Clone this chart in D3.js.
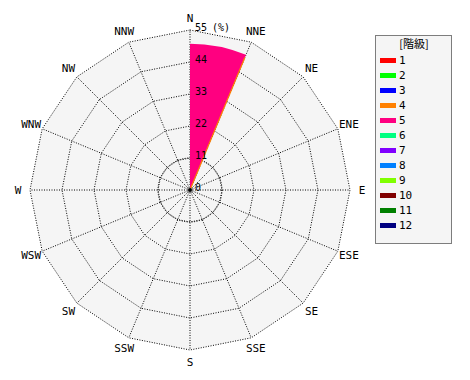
<!DOCTYPE html>
<html>
<head>
<meta charset="utf-8">
<script src="https://cdn.jsdelivr.net/npm/d3@7"></script>
<style>
  body { margin: 0; background: #fff; }
  text { font-family: "DejaVu Sans Mono", monospace; font-size: 10px; fill: #000; }
</style>
</head>
<body>
<div id="chart"></div>
<script>
const directions = ["N","NNE","NE","ENE","E","ESE","SE","SSE","S","SSW","SW","WSW","W","WNW","NW","NNW"];
const classes = ["1","2","3","4","5","6","7","8","9","10","11","12"];
const classColors = ["#ff0000","#00ff00","#0000ff","#ff8000","#ff0080","#00ff80","#8000ff","#0080ff","#80ff00","#800000","#008000","#000080"];
// frequency (%) per class, per direction (sector drawn clockwise from its direction)
const freq = {
  "4": [0.1,0,0,0,0,0,0,0,0,0,0,0,0,0,0,0],
  "5": [50.2,0,0,0,0,0,0,0,0,0,0,0,0,0,0,0]
};
const ringTicks = [11, 22, 33, 44, 55];

let width = 470, height = 380;
const cx = 190, cy = 190, R = 160;

const svg = d3.select("#chart").append("svg")
  .attr("width", width).attr("height", height);

const r = d3.scaleLinear().domain([0, 55]).range([0, R]);
const ang = d3.scaleLinear().domain([0, directions.length]).range([0, 2 * Math.PI]);

const g = svg.append("g").attr("transform", `translate(${cx},${cy})`);
const pt = (a, rad) => [rad * Math.sin(a), -rad * Math.cos(a)];

// background polygon
g.append("polygon")
  .attr("points", directions.map((d, i) => pt(ang(i), r(55))).join(" "))
  .attr("fill", "#f5f5f5");

// grid rings
const dotted = sel => sel.attr("fill", "none").attr("stroke", "#000")
  .attr("stroke-dasharray", "1,1.5").attr("stroke-width", 1);
ringTicks.forEach(t => {
  g.append("polygon")
    .attr("points", directions.map((d, i) => pt(ang(i), r(t))).join(" "))
    .call(dotted);
});
g.append("circle").attr("r", r(11)).call(dotted);

// spokes
directions.forEach((d, i) => {
  const [x2, y2] = pt(ang(i), r(55));
  g.append("line").attr("x1", 0).attr("y1", 0).attr("x2", x2).attr("y2", y2).call(dotted);
});

// stacked sectors
const arc = d3.arc();
directions.forEach((d, i) => {
  let acc = 0;
  const parts = classes.map(c => {
    const v = freq[c] ? freq[c][i] : 0;
    const p = { c, v, inner: acc, outer: acc + v };
    acc += v;
    return p;
  }).filter(p => p.v > 0);
  parts.forEach(p => {
    const ci = classes.indexOf(p.c);
    g.append("path")
      .attr("d", arc({ innerRadius: r(p.inner), outerRadius: r(p.outer), startAngle: ang(i), endAngle: ang(i + 1) }))
      .attr("fill", classColors[ci]);
  });
  // thin outline of lower class along the sector edge
  if (parts.length > 1) {
    const top = parts[parts.length - 1];
    const [x2, y2] = pt(ang(i + 1), r(top.outer) - 3);
    g.append("line").attr("x1", 0).attr("y1", 0).attr("x2", x2).attr("y2", y2)
      .attr("stroke", classColors[classes.indexOf(parts[0].c)]).attr("stroke-width", 1.2);
  }
});

g.append("circle").attr("r", 2).attr("fill", "#000");

// ring labels
ringTicks.forEach(t => {
  g.append("text").attr("x", 5).attr("y", -r(t) + 1).text(t);
});
g.append("text").attr("x", 22).attr("y", -r(55) + 1).text("(%)");
g.append("text").attr("x", 5).attr("y", 1).text("0");

// direction labels
directions.forEach((d, i) => {
  const [x, y] = pt(ang(i), 172);
  g.append("text").attr("x", x).attr("y", y)
    .attr("text-anchor", "middle").attr("dominant-baseline", "central")
    .style("font-size", "11px").text(d);
});

// legend
const lg = svg.append("g");
lg.append("rect").attr("x", 375.5).attr("y", 35.5).attr("width", 76).attr("height", 208)
  .attr("fill", "#f5f5f5").attr("stroke", "#000").attr("stroke-dasharray", "1,1");
lg.append("text").attr("x", 414).attr("y", 48).attr("text-anchor", "middle")
  .style("font-family", "'Noto Sans CJK JP'").style("font-size", "11px").text("[階級]");
classes.forEach((c, i) => {
  const y = 60 + i * 15;
  lg.append("rect").attr("x", 380).attr("y", y - 2).attr("width", 16).attr("height", 5)
    .attr("fill", classColors[i]);
  lg.append("text").attr("x", 399).attr("y", y + 4).style("font-size", "11px").text(c);
});
</script>
</body>
</html>
